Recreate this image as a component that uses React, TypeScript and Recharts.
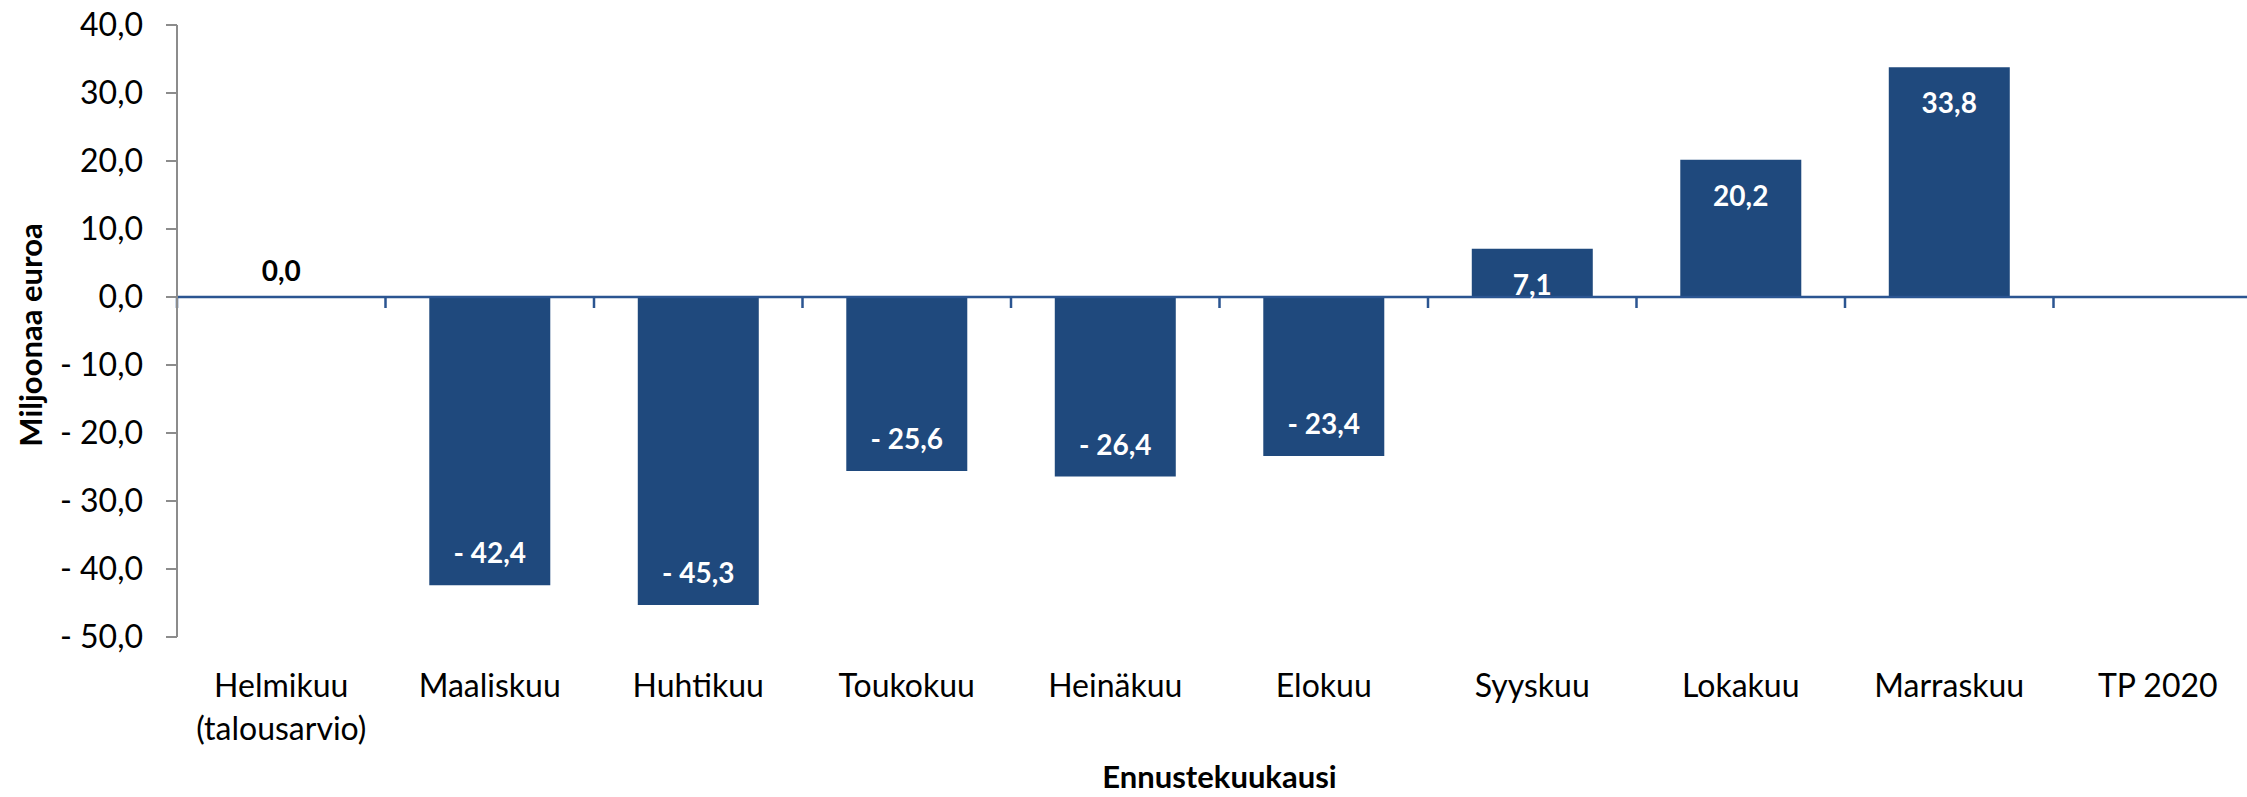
import React from 'react';
import { ComposedChart, Bar, Line, XAxis, YAxis, ReferenceLine, LabelList } from 'recharts';

const categories: string[] = [
  'Helmikuu\n(talousarvio)',
  'Maaliskuu',
  'Huhtikuu',
  'Toukokuu',
  'Heinäkuu',
  'Elokuu',
  'Syyskuu',
  'Lokakuu',
  'Marraskuu',
  'TP 2020',
];

const values: (number | null)[] = [0.0, -42.4, -45.3, -25.6, -26.4, -23.4, 7.1, 20.2, 33.8, null];

const yTicks: number[] = [40, 30, 20, 10, 0, -10, -20, -30, -40, -50];

const yTitle = 'Miljoonaa euroa';
const xTitle = 'Ennustekuukausi';

const data = categories.map((name, i) => ({ name, value: values[i] }));

const FONT = 'Lato, "Open Sans", sans-serif';
const BAR_COLOR = '#1F497D';
const AXIS_BLUE = '#2B5591';
const AXIS_GRAY = '#8C8C8C';

function fmt(v: number): string {
  const s = Math.abs(v).toFixed(1).replace('.', ',');
  return v < 0 ? `- ${s}` : s;
}

const CategoryTick = (props: any) => {
  const { x, y, payload } = props;
  const lines = String(payload.value).split('\n');
  return (
    <text x={x} y={y} textAnchor="middle" fontFamily={FONT} fontSize={32} fill="#000">
      {lines.map((l, i) => (
        <tspan key={i} x={x} dy={i === 0 ? 60 : 42.5}>
          {l}
        </tspan>
      ))}
    </text>
  );
};

const ZeroAxis = (props: any) => {
  const x1 = Number(props.x1);
  const y1 = Number(props.y1);
  const x2 = Number(props.x2);
  const n = categories.length;
  const step = (x2 - x1) / n;
  const marks = Array.from({ length: n + 1 }, (_, k) => x1 + k * step);
  return (
    <g>
      <line x1={x1} y1={y1} x2={x2} y2={y1} stroke={AXIS_BLUE} strokeWidth={2.5} />
      {marks.map((tx, k) => (
        <line key={k} x1={tx} y1={y1} x2={tx} y2={y1 + 11} stroke={AXIS_BLUE} strokeWidth={2.5} />
      ))}
    </g>
  );
};

// Label drawn at the value end of each bar (point of an invisible line series)
const ValueLabel = (props: any) => {
  const { value } = props;
  if (value === null || value === undefined) return null;
  const vb = props.viewBox || props;
  const px = Number(props.x ?? vb.x);
  const py = Number(props.y ?? vb.y);
  const w = Number(vb.width || 0);
  const cx = px + w / 2;
  const v = Number(value);
  let by: number;
  let fill: string;
  if (v > 0) {
    by = py + 46;
    fill = '#fff';
  } else if (v < 0) {
    by = py - 22;
    fill = '#fff';
  } else {
    by = py - 16;
    fill = '#000';
  }
  return (
    <text x={cx} y={by} textAnchor="middle" fontFamily={FONT} fontWeight={700} fontSize={28} fill={fill}>
      {fmt(v)}
    </text>
  );
};

const YTitle = (props: any) => {
  const vb = props.viewBox || { x: 0, y: 25, width: 177, height: 612 };
  const cy = vb.y + vb.height / 2 + 4;
  const bx = 42;
  return (
    <text
      x={bx}
      y={cy}
      transform={`rotate(-90, ${bx}, ${cy})`}
      textAnchor="middle"
      fontFamily={FONT}
      fontWeight={700}
      fontSize={31}
      fill="#000"
    >
      {yTitle}
    </text>
  );
};

const XTitle = (props: any) => {
  const vb = props.viewBox || { x: 177, y: 637, width: 2085, height: 160 };
  const cx = vb.x + vb.width / 2;
  const by = vb.y + vb.height - 9;
  return (
    <text x={cx} y={by} textAnchor="middle" fontFamily={FONT} fontWeight={700} fontSize={31} fill="#000">
      {xTitle}
    </text>
  );
};

export default function App() {
  return (
    <div
      style={{
        position: 'absolute',
        left: 0,
        top: 0,
        width: 2247,
        height: 797,
        overflow: 'hidden',
        background: '#fff',
      }}
    >
      <ComposedChart
        width={2290}
        height={797}
        data={data}
        margin={{ top: 25, right: 28, bottom: 0, left: 0 }}
        barCategoryGap="21%"
        style={{ fontFamily: FONT }}
      >
        <XAxis
          dataKey="name"
          interval={0}
          height={160}
          axisLine={false}
          tickLine={false}
          tickSize={0}
          tickMargin={0}
          tick={<CategoryTick />}
          label={{ content: (p: any) => <XTitle {...p} /> }}
        />
        <YAxis
          width={177}
          domain={[-50, 40]}
          ticks={yTicks}
          interval={0}
          tickFormatter={(v: number) => fmt(v)}
          axisLine={{ stroke: AXIS_GRAY, strokeWidth: 2 }}
          tickLine={{ stroke: AXIS_GRAY, strokeWidth: 2 }}
          tickSize={11}
          tickMargin={23}
          tick={{ fontFamily: FONT, fontSize: 32, fill: '#000' }}
          label={{ content: (p: any) => <YTitle {...p} /> }}
        />
        <Bar dataKey="value" fill={BAR_COLOR} isAnimationActive={false} />
        <ReferenceLine y={0} shape={(p: any) => <ZeroAxis {...p} />} />
        <Line
          dataKey="value"
          stroke="none"
          dot={false}
          activeDot={false}
          legendType="none"
          isAnimationActive={false}
        >
          <LabelList dataKey="value" content={(p: any) => <ValueLabel {...p} />} />
        </Line>
      </ComposedChart>
    </div>
  );
}
